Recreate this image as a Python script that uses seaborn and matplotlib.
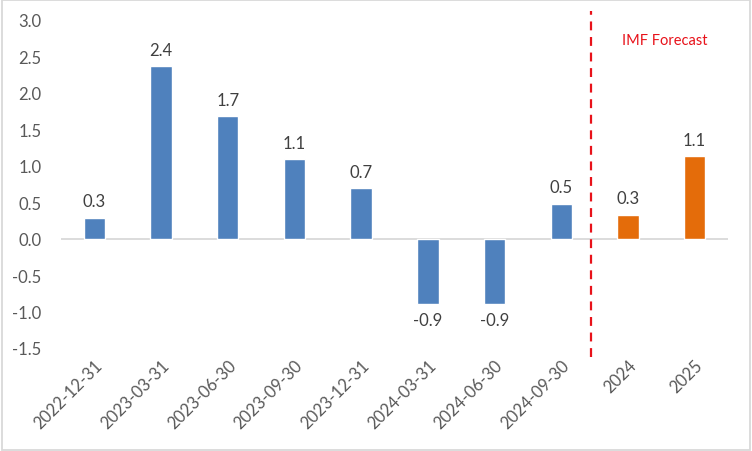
import pandas as pd
import matplotlib.pyplot as plt
import seaborn as sns
from matplotlib.patches import Rectangle

# Chart data
periods = ['2022-12-31', '2023-03-31', '2023-06-30', '2023-09-30', '2023-12-31',
           '2024-03-31', '2024-06-30', '2024-09-30', '2024', '2025']
values = [0.29, 2.37, 1.68, 1.09, 0.69, -0.89, -0.89, 0.48, 0.33, 1.13]
kind = ['Actual'] * 8 + ['IMF Forecast'] * 2

df = pd.DataFrame({'period': periods, 'value': values, 'kind': kind})

sns.set_style('white')
plt.rcParams['font.family'] = ['Lato', 'DejaVu Sans']

fig = plt.figure(figsize=(7.52, 4.52), dpi=100)
ax = fig.add_axes([61 / 752, 1 - 349 / 452, 667 / 752, 328 / 452])

palette = {'Actual': '#4f81bd', 'IMF Forecast': '#e46c0a'}
sns.barplot(data=df, x='period', y='value', hue='kind', palette=palette,
            saturation=1, dodge=False, width=0.32, legend=False, ax=ax)

for c in ax.containers:
    ax.bar_label(c, fmt='%.1f', padding=6, fontsize=12, color='#404040')

ax.axhline(0, color='#d9d9d9', lw=1.3, zorder=0)
ax.set_xlim(-0.5, len(periods) - 0.5)
ax.set_ylim(-1.5, 3.0)
ax.set_yticks([-1.5, -1.0, -0.5, 0.0, 0.5, 1.0, 1.5, 2.0, 2.5, 3.0])
ax.set_yticklabels([f'{t:.1f}' for t in ax.get_yticks()])
ax.set_xlabel('')
ax.set_ylabel('')
ax.tick_params(axis='y', labelsize=12, labelcolor='#595959', length=0, pad=14)
ax.tick_params(axis='x', labelsize=12, labelcolor='#595959', length=0, pad=6)
plt.setp(ax.get_xticklabels(), rotation=45, ha='right', rotation_mode='anchor')
sns.despine(ax=ax, left=True, bottom=True)

# forecast divider
ax.plot([7.45, 7.45], [-1.62, 3.12], color='#e8121a', lw=1.6,
        ls=(0, (4, 3)), clip_on=False)
ax.text(8.55, 2.72, 'IMF Forecast', color='#e8121a', fontsize=10.5,
        ha='center', va='center')

# chart border
fig.patches.append(Rectangle((0.002, 0.003), 0.996, 0.994, transform=fig.transFigure,
                             fill=False, edgecolor='#d9d9d9', lw=1.3))

plt.savefig('out.png', dpi=100)
